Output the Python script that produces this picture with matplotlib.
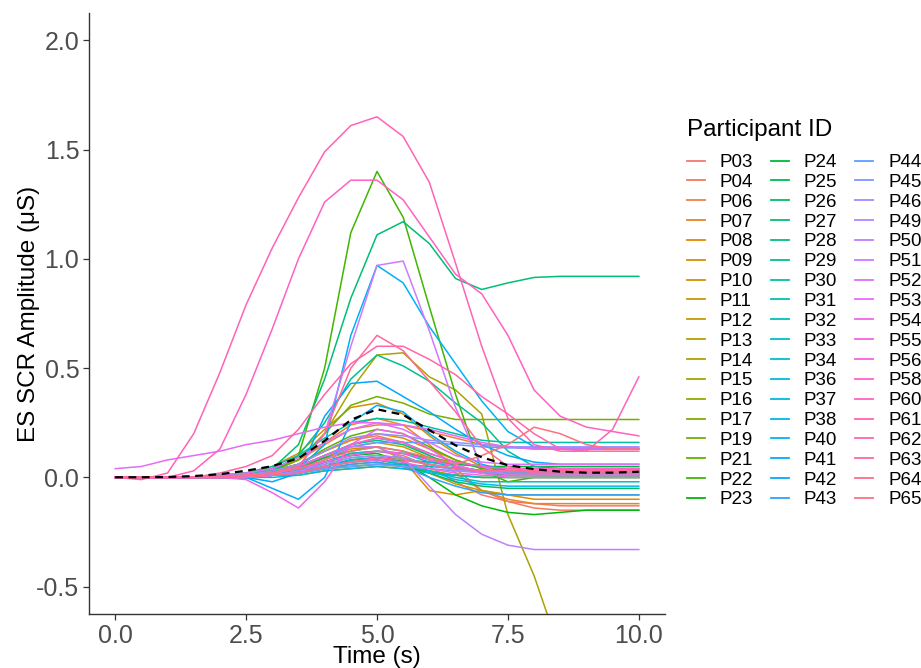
import numpy as np
import matplotlib
matplotlib.use("Agg")
import matplotlib.pyplot as plt

plt.rcParams["font.family"] = ["Liberation Sans", "DejaVu Sans"]

# Sampling times (s)
time_s = [0.0, 0.5, 1.0, 1.5, 2.0, 2.5, 3.0, 3.5, 4.0, 4.5, 5.0,
          5.5, 6.0, 6.5, 7.0, 7.5, 8.0, 8.5, 9.0, 9.5, 10.0]

participants = ["P03", "P04", "P06", "P07", "P08", "P09", "P10", "P11", "P12", "P13",
                "P14", "P15", "P16", "P17", "P19", "P21", "P22", "P23", "P24", "P25",
                "P26", "P27", "P28", "P29", "P30", "P31", "P32", "P33", "P34", "P36",
                "P37", "P38", "P40", "P41", "P42", "P43", "P44", "P45", "P46", "P49",
                "P50", "P51", "P52", "P53", "P54", "P55", "P56", "P58", "P60", "P61",
                "P62", "P63", "P64", "P65"]

# ES SCR amplitude (uS) per participant, one value per sampling time
p03 = [0, 0, 0, 0, 0, 0.01, 0.02, 0.04, 0.07, 0.10, 0.12, 0.10, 0.05, -0.02, -0.08, -0.11, -0.12, -0.13, -0.13, -0.13, -0.13]
p04 = [0, 0, 0, 0, 0, 0.01, 0.03, 0.06, 0.12, 0.17, 0.19, 0.16, 0.10, 0.02, -0.06, -0.11, -0.14, -0.15, -0.15, -0.15, -0.15]
p06 = [0, 0, 0, 0, 0.01, 0.02, 0.04, 0.08, 0.15, 0.22, 0.24, 0.24, 0.21, 0.18, 0.15, 0.14, 0.13, 0.13, 0.13, 0.13, 0.13]
p07 = [0, 0, 0, 0, 0, 0.01, 0.03, 0.08, 0.16, 0.24, 0.27, 0.24, 0.15, 0.04, -0.06, -0.10, -0.12, -0.12, -0.12, -0.12, -0.12]
p08 = [0, 0, 0, 0, 0, 0.01, 0.03, 0.06, 0.12, 0.17, 0.20, 0.18, 0.13, 0.08, 0.04, 0.03, 0.02, 0.02, 0.02, 0.02, 0.02]
p09 = [0, 0, 0, 0, 0, 0.01, 0.02, 0.05, 0.09, 0.13, 0.14, 0.08, -0.06, -0.08, -0.06, -0.08, -0.10, -0.10, -0.10, -0.10, -0.10]
p10 = [0, 0, 0, 0, 0.01, 0.02, 0.05, 0.11, 0.22, 0.32, 0.34, 0.29, 0.19, 0.11, 0.05, 0.03, 0.03, 0.03, 0.03, 0.03, 0.03]
p11 = [0, 0, 0, 0, 0, 0, 0.01, 0.02, 0.04, 0.06, 0.07, 0.05, 0.02, -0.03, -0.06, -0.08, -0.08, -0.08, -0.08, -0.08, -0.08]
p12 = [0, 0, 0, 0, 0, 0.01, 0.02, 0.05, 0.09, 0.14, 0.16, 0.14, 0.09, 0.05, 0.02, 0.01, 0.01, 0.01, 0.01, 0.01, 0.01]
p13 = [0, 0, 0, 0, 0, 0, 0.01, 0.01, 0.03, 0.04, 0.05, 0.04, 0.03, 0.01, 0, 0, 0, 0, 0, 0, 0]
p14 = [0, 0, 0, 0, 0, 0.01, 0.03, 0.08, 0.20, 0.40, 0.56, 0.57, 0.46, 0.40, 0.29, -0.17, -0.45, -0.80, -0.95, -1.00, -1.00]
p15 = [0, 0, 0, 0, 0, 0.01, 0.02, 0.04, 0.07, 0.11, 0.12, 0.11, 0.09, 0.07, 0.05, 0.04, 0.04, 0.04, 0.04, 0.04, 0.04]
p16 = [0, 0, 0, 0, 0, 0, 0.01, 0.02, 0.05, 0.08, 0.09, 0.08, 0.06, 0.04, 0.03, 0.02, 0.02, 0.02, 0.02, 0.02, 0.02]
p17 = [0, 0, 0, 0, 0, 0, 0.01, 0.02, 0.04, 0.05, 0.06, 0.05, 0.03, 0.01, 0, 0, 0, 0, 0, 0, 0]
p19 = [0, 0, 0, 0, 0, 0.01, 0.03, 0.08, 0.20, 0.33, 0.37, 0.34, 0.29, 0.265, 0.265, 0.265, 0.265, 0.265, 0.265, 0.265, 0.265]
p21 = [0, 0, 0, 0, 0, 0.01, 0.03, 0.06, 0.13, 0.19, 0.22, 0.20, 0.14, 0.08, 0.04, 0.03, 0.03, 0.03, 0.03, 0.03, 0.03]
p22 = [0, 0, 0, 0, 0, 0, 0.02, 0.10, 0.50, 1.12, 1.40, 1.19, 0.78, 0.38, 0.03, -0.02, 0, 0, 0, 0, 0]
p23 = [0, 0, 0, 0, 0, 0, 0.01, 0.03, 0.07, 0.10, 0.11, 0.07, 0.0, -0.08, -0.13, -0.16, -0.17, -0.16, -0.15, -0.15, -0.15]
p24 = [0, 0, 0, 0, 0, 0, 0.01, 0.03, 0.05, 0.08, 0.09, 0.08, 0.07, 0.06, 0.05, 0.05, 0.05, 0.05, 0.05, 0.05, 0.05]
p25 = [0, 0, 0, 0, 0, 0.01, 0.02, 0.04, 0.09, 0.12, 0.14, 0.12, 0.08, 0.05, 0.03, 0.02, 0.02, 0.02, 0.02, 0.02, 0.02]
p26 = [0, 0, 0, 0, 0, 0, 0.01, 0.02, 0.05, 0.07, 0.08, 0.06, 0.02, -0.02, -0.04, -0.05, -0.05, -0.05, -0.05, -0.05, -0.05]
p27 = [0, 0, 0, 0, 0, 0.01, 0.04, 0.15, 0.45, 0.82, 1.11, 1.17, 1.07, 0.91, 0.86, 0.89, 0.915, 0.92, 0.92, 0.92, 0.92]
p28 = [0, 0, 0, 0, 0, 0.01, 0.02, 0.05, 0.10, 0.15, 0.17, 0.15, 0.10, 0.05, 0.02, 0.01, 0.01, 0.01, 0.01, 0.01, 0.01]
p29 = [0, 0, 0, 0, 0, 0.01, 0.03, 0.10, 0.25, 0.45, 0.56, 0.51, 0.44, 0.34, 0.25, 0.12, 0.05, 0.04, 0.04, 0.04, 0.04]
p30 = [0, 0, 0, 0, 0.01, 0.02, 0.05, 0.10, 0.18, 0.25, 0.27, 0.26, 0.23, 0.20, 0.17, 0.16, 0.16, 0.16, 0.16, 0.16, 0.16]
p31 = [0, 0, 0, 0, 0, 0, 0.01, 0.02, 0.04, 0.05, 0.06, 0.06, 0.05, 0.04, 0.03, 0.03, 0.03, 0.03, 0.03, 0.03, 0.03]
p32 = [0, 0, 0, 0, 0, 0, 0.01, 0.03, 0.06, 0.09, 0.10, 0.09, 0.06, 0.04, 0.02, 0.02, 0.02, 0.02, 0.02, 0.02, 0.02]
p33 = [0, 0, 0, 0, 0, 0, 0.01, 0.02, 0.05, 0.07, 0.08, 0.06, 0.03, 0.0, -0.02, -0.02, -0.02, -0.02, -0.02, -0.02, -0.02]
p34 = [0, 0, 0, 0, 0, 0.01, 0.02, 0.05, 0.10, 0.15, 0.18, 0.16, 0.11, 0.07, 0.05, 0.04, 0.04, 0.04, 0.04, 0.04, 0.04]
p36 = [0, 0, 0, 0, 0, 0, 0, 0.01, 0.03, 0.04, 0.05, 0.04, 0.02, 0.01, 0, 0, 0, 0, 0, 0, 0]
p37 = [0, 0, 0, 0, 0, 0, 0.01, 0.03, 0.07, 0.11, 0.12, 0.11, 0.07, 0.05, 0.03, 0.03, 0.03, 0.03, 0.03, 0.03, 0.03]
p38 = [0, 0, 0, 0, 0, 0, 0.01, 0.02, 0.05, 0.08, 0.09, 0.07, 0.03, -0.01, -0.03, -0.04, -0.04, -0.04, -0.04, -0.04, -0.04]
p40 = [0, 0, 0, 0, 0, 0, 0.01, 0.04, 0.15, 0.65, 0.97, 0.89, 0.69, 0.52, 0.35, 0.21, 0.14, 0.13, 0.13, 0.13, 0.13]
p41 = [0, 0, 0, 0, 0, 0, -0.05, -0.10, 0.0, 0.25, 0.33, 0.30, 0.20, 0.12, 0.06, 0.03, 0.03, 0.03, 0.03, 0.03, 0.03]
p42 = [0, 0, 0, 0, 0, 0, -0.02, 0.02, 0.28, 0.43, 0.44, 0.37, 0.30, 0.22, 0.15, 0.10, 0.07, 0.06, 0.06, 0.06, 0.06]
p43 = [0, 0, 0, 0, 0, 0, 0.01, 0.02, 0.04, 0.06, 0.07, 0.05, 0.0, -0.04, -0.07, -0.08, -0.08, -0.08, -0.08, -0.08, -0.08]
p44 = [0, 0, 0, 0, 0, 0.01, 0.02, 0.05, 0.10, 0.14, 0.16, 0.16, 0.16, 0.15, 0.14, 0.135, 0.135, 0.135, 0.135, 0.135, 0.135]
p45 = [0, 0, 0, 0, 0, 0, 0.01, 0.02, 0.04, 0.05, 0.06, 0.05, 0.04, 0.03, 0.03, 0.03, 0.03, 0.03, 0.03, 0.03, 0.03]
p46 = [0, 0, 0, 0, 0, 0.01, 0.03, 0.06, 0.12, 0.18, 0.20, 0.19, 0.17, 0.16, 0.15, 0.14, 0.14, 0.14, 0.14, 0.14, 0.14]
p49 = [0, 0, 0, 0, 0, 0, 0.01, 0.03, 0.06, 0.09, 0.10, 0.09, 0.06, 0.03, 0.02, 0.02, 0.02, 0.02, 0.02, 0.02, 0.02]
p50 = [0, 0, 0, 0, 0, 0, 0.01, 0.02, 0.08, 0.14, 0.14, 0.09, -0.04, -0.17, -0.26, -0.31, -0.33, -0.33, -0.33, -0.33, -0.33]
p51 = [0, 0, 0, 0, 0, 0, 0.01, 0.05, 0.20, 0.60, 0.97, 0.99, 0.67, 0.32, 0.05, 0.01, 0.01, 0.01, 0.01, 0.01, 0.01]
p52 = [0, 0, 0, 0, 0.01, 0.02, 0.04, 0.09, 0.16, 0.22, 0.25, 0.22, 0.16, 0.10, 0.07, 0.06, 0.06, 0.06, 0.06, 0.06, 0.06]
p53 = [0.04, 0.05, 0.08, 0.10, 0.12, 0.15, 0.17, 0.20, 0.23, 0.25, 0.25, 0.24, 0.22, 0.19, 0.16, 0.14, 0.13, 0.13, 0.13, 0.13, 0.13]
p54 = [0, 0, 0, 0, 0, -0.01, -0.07, -0.14, -0.02, 0.15, 0.22, 0.20, 0.13, 0.06, 0.02, 0.0, 0.0, 0.0, 0.0, 0.0, 0.0]
p55 = [0, 0, 0, 0, 0, 0.01, 0.02, 0.04, 0.07, 0.10, 0.12, 0.11, 0.08, 0.05, 0.03, 0.03, 0.03, 0.03, 0.03, 0.03, 0.03]
p56 = [0, 0, 0, 0, 0, 0, 0.01, 0.02, 0.05, 0.07, 0.08, 0.07, 0.04, 0.02, 0.01, 0.01, 0.01, 0.01, 0.01, 0.01, 0.01]
p58 = [0, 0, 0, 0, 0, 0.01, 0.02, 0.05, 0.10, 0.15, 0.18, 0.16, 0.11, 0.07, 0.05, 0.04, 0.04, 0.04, 0.04, 0.04, 0.04]
p60 = [0, 0, 0, 0.03, 0.13, 0.38, 0.68, 1.00, 1.26, 1.36, 1.36, 1.27, 1.10, 0.93, 0.84, 0.65, 0.40, 0.28, 0.23, 0.21, 0.19]
p61 = [0, -0.01, 0.02, 0.20, 0.48, 0.79, 1.05, 1.28, 1.49, 1.61, 1.65, 1.56, 1.35, 0.98, 0.60, 0.27, 0.15, 0.12, 0.12, 0.22, 0.46]
p62 = [0, 0, 0, 0, 0.02, 0.05, 0.10, 0.22, 0.38, 0.52, 0.60, 0.60, 0.54, 0.47, 0.37, 0.29, 0.20, 0.13, 0.12, 0.12, 0.12]
p63 = [0, 0, 0, 0, 0, 0.01, 0.02, 0.05, 0.20, 0.50, 0.65, 0.58, 0.44, 0.30, 0.14, 0.05, 0.02, 0.02, 0.02, 0.02, 0.02]
p64 = [0, 0, 0, 0, 0, 0, 0.01, 0.02, 0.05, 0.07, 0.09, 0.08, 0.06, 0.04, 0.03, 0.03, 0.03, 0.03, 0.03, 0.03, 0.03]
p65 = [0, 0, 0, 0, 0, 0.01, 0.02, 0.04, 0.08, 0.12, 0.14, 0.12, 0.09, 0.06, 0.10, 0.15, 0.23, 0.20, 0.15, 0.13, 0.13]

series = [p03, p04, p06, p07, p08, p09, p10, p11, p12, p13,
          p14, p15, p16, p17, p19, p21, p22, p23, p24, p25,
          p26, p27, p28, p29, p30, p31, p32, p33, p34, p36,
          p37, p38, p40, p41, p42, p43, p44, p45, p46, p49,
          p50, p51, p52, p53, p54, p55, p56, p58, p60, p61,
          p62, p63, p64, p65]


def hue_palette(n, h0=15.0, c=100.0, l=65.0):
    """Evenly spaced HCL hues (polar Luv) converted to sRGB."""
    xn, yn, zn = 95.047, 100.0, 108.883
    un = 4 * xn / (xn + 15 * yn + 3 * zn)
    vn = 9 * yn / (xn + 15 * yn + 3 * zn)
    m = np.array([[3.2404542, -1.5371385, -0.4985314],
                  [-0.9692660, 1.8760108, 0.0415560],
                  [0.0556434, -0.2040259, 1.0572252]])
    cols = []
    for i in range(n):
        h = np.deg2rad(h0 + 360.0 * i / n)
        u, v = c * np.cos(h), c * np.sin(h)
        y = yn * ((l + 16) / 116) ** 3
        up = u / (13 * l) + un
        vp = v / (13 * l) + vn
        x = y * 9 * up / (4 * vp)
        z = y * (12 - 3 * up - 20 * vp) / (4 * vp)
        rgb = m @ (np.array([x, y, z]) / 100.0)
        rgb = np.where(rgb > 0.0031308, 1.055 * np.abs(rgb) ** (1 / 2.4) - 0.055, 12.92 * rgb)
        cols.append(tuple(np.clip(rgb, 0, 1)))
    return cols


colors = hue_palette(len(participants))

W, H = 921, 668
fig = plt.figure(figsize=(W / 100, H / 100), dpi=100)
ax = fig.add_axes([89 / W, 1 - 614 / H, (665 - 89) / W, (614 - 13) / H])

handles = []
for name, vals, col in zip(participants, series, colors):
    ln, = ax.plot(time_s, vals, color=col, lw=1.1, solid_joinstyle="round")
    handles.append(ln)

# group mean across participants
mean_vals = np.mean(np.array(series, dtype=float), axis=0)
ax.plot(time_s, mean_vals, color="black", lw=1.6, ls=(0, (3.5, 2.5)), zorder=5)

ax.set_xlim(-0.5, 10.5)
ax.set_ylim(-0.625, 2.125)
ax.set_xticks([0.0, 2.5, 5.0, 7.5, 10.0])
ax.set_xticklabels(["0.0", "2.5", "5.0", "7.5", "10.0"])
ax.set_yticks([-0.5, 0.0, 0.5, 1.0, 1.5, 2.0])
ax.set_yticklabels(["-0.5", "0.0", "0.5", "1.0", "1.5", "2.0"])

for side in ("top", "right"):
    ax.spines[side].set_visible(False)
for side in ("left", "bottom"):
    ax.spines[side].set_color("#333333")
    ax.spines[side].set_linewidth(1.0)
ax.tick_params(axis="both", direction="out", length=4, width=0.9, color="#333333",
               labelsize=18, labelcolor="#4D4D4D", pad=3)

ax.set_xlabel("Time (s)", fontsize=17.5, color="black", labelpad=-1)
ax.set_ylabel("ES SCR Amplitude (μS)", fontsize=17.5, color="black")
ax.yaxis.set_label_coords((40 - 89) / (665 - 89), 0.5)

fig.text(687 / W, 1 - 130 / H, "Participant ID", fontsize=17.5, color="black",
         ha="left", va="center")
leg = fig.legend(handles, participants, ncol=3, loc="upper left",
                 bbox_to_anchor=(687 / W, 1 - 154 / H), frameon=False,
                 fontsize=13.5, borderpad=0, borderaxespad=0,
                 handlelength=0.95, handletextpad=0.8, columnspacing=0.95,
                 labelspacing=0.145)
for h in leg.legend_handles:
    h.set_linewidth(1.3)

fig.savefig("out.png", dpi=100, facecolor="white")
